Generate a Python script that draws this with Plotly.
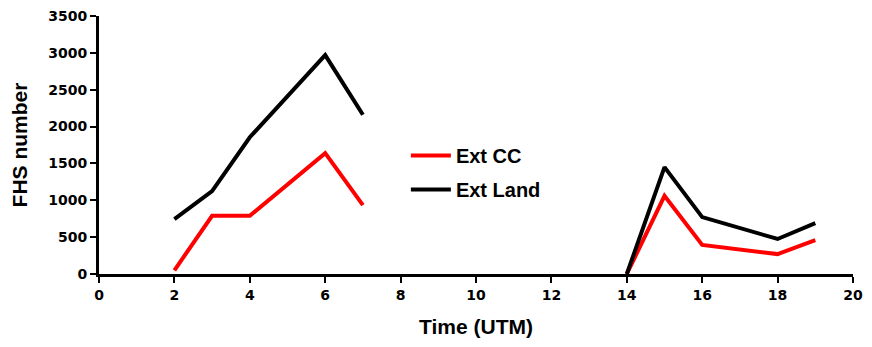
import plotly.graph_objects as go

time_cc = [2, 3, 4, 6, 7, None, 14, 15, 16, 18, 19]
ext_cc = [50, 790, 790, 1640, 935, None, 0, 1060, 395, 270, 460]
time_land = [2, 3, 4, 6, 7, None, 14, 15, 16, 18, 19]
ext_land = [745, 1125, 1855, 2970, 2160, None, 0, 1450, 772, 475, 690]

x_ticks = list(range(0, 21, 2))
y_ticks = list(range(0, 3501, 500))

title_font = "Liberation Sans, Arial, sans-serif"
tick_font = "DejaVu Sans, Verdana, sans-serif"

fig = go.Figure()
fig.add_trace(go.Scatter(x=time_cc, y=ext_cc, mode="lines", name="<b>Ext CC</b>",
                         line=dict(color="#ff0000", width=4), legendgroup="a",
                         connectgaps=False))
fig.add_trace(go.Scatter(x=time_land, y=ext_land, mode="lines", name="<b>Ext Land</b>",
                         line=dict(color="#000000", width=4), legendgroup="b",
                         connectgaps=False))

fig.update_layout(
    width=872, height=347,
    margin=dict(l=91, r=27, t=8, b=81, autoexpand=False),
    plot_bgcolor="white", paper_bgcolor="white",
    font=dict(family=title_font, color="black", size=13),
    showlegend=True,
    legend=dict(x=0.407, y=0.535, xanchor="left", yanchor="top",
                font=dict(size=20, family=title_font),
                tracegroupgap=5, bgcolor="rgba(0,0,0,0)", itemwidth=40),
    xaxis=dict(range=[0, 20], tickvals=x_ticks, ticktext=[f"<b>{v}</b>" for v in x_ticks],
               showline=True, linecolor="black", linewidth=3,
               ticks="outside", ticklen=6, tickwidth=2, tickcolor="black",
               showgrid=False, zeroline=False, automargin=False,
               ticklabeloverflow="allow",
               tickfont=dict(size=14, family=tick_font),
               title=dict(text="<b>Time (UTM)</b>", font=dict(size=21, family=title_font),
                          standoff=18)),
    yaxis=dict(range=[0, 3500], tickvals=y_ticks, ticktext=[f"<b>{v}</b>" for v in y_ticks],
               showline=True, linecolor="black", linewidth=3,
               ticks="outside", ticklen=6, tickwidth=2, tickcolor="black",
               showgrid=False, zeroline=False, automargin=False,
               ticklabeloverflow="allow",
               tickfont=dict(size=14, family=tick_font),
               title=dict(text="<b>FHS number</b>", font=dict(size=21, family=title_font),
                          standoff=15)),
)

fig.write_html("out.html")
